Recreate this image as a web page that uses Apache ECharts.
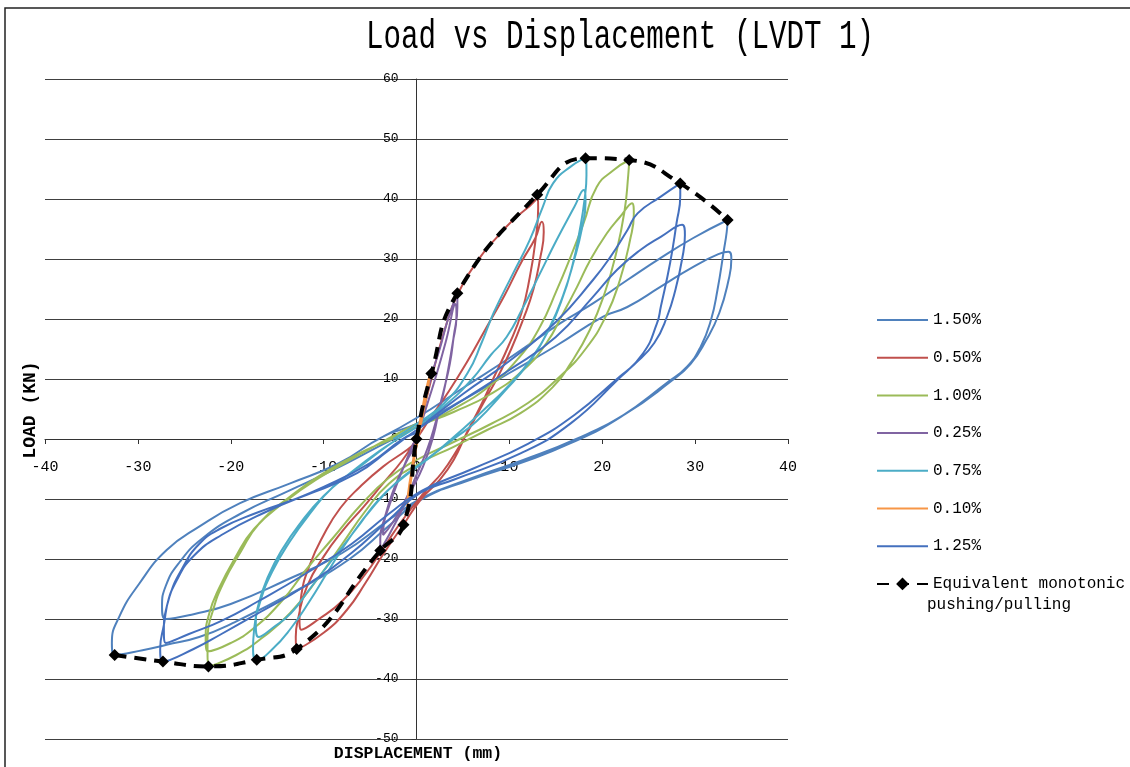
<!DOCTYPE html>
<html><head><meta charset="utf-8">
<script src="https://cdn.jsdelivr.net/npm/echarts@6/dist/echarts.min.js"></script>
<style>html,body{margin:0;padding:0;background:#fff}#c{width:1130px;height:767px}</style>
</head><body><div id="c"></div>
<script>
// ---- data (displacement mm, load kN) ----
const seriesNames = ['1.50%','0.50%','1.00%','0.25%','0.75%','0.10%','1.25%','Equivalent monotonic pushing/pulling'];
const xTicks = [-40,-30,-20,-10,0,10,20,30,40];
const yTicks = [-50,-40,-30,-20,-10,0,10,20,30,40,50,60];

const s150 = [
[-3.6,0.4],[0,3.5],[5,8.5],[10,13.5],[15.5,19.3],[19,22.6],[22.7,26.5],[26.3,30.2],[29.8,33.5],[33.5,36.5],
[33.4,34.5],[33.1,31.5],[32.4,24.8],[31.7,19.8],[30.6,15.4],[29.1,12],[27,9.4],[22,3.7],[16.6,-0.7],[11.2,-4],[5.8,-6.8],[0.4,-10.2],
[-3,-14.5],[-7.2,-20],[-12.6,-25],[-19.8,-30.7],[-23.4,-33],[-26.9,-34.3],[-29.5,-35.2],[-32.5,-36],
[-32.8,-34],[-32,-29.6],[-29.8,-24],[-26.9,-18.5],[-23.4,-14.6],[-19,-10.7],[-13.6,-7.4],[-8.3,-4],[-3.6,0.4],
[0,2.5],[5,6.5],[10,11],[15,15.5],[20.1,20.4],[22.7,22],[26.3,25.4],[29.8,28.7],[32.5,30.8],[33.6,31.2],
[33.9,30],[33.6,26.5],[32.6,21],[31.2,16.5],[29.5,12.5],[27.3,9.5],[22.5,4.2],[17.2,0],[11.5,-3.5],[6,-6.5],[0.6,-9.8],
[-3,-13.5],[-8,-19],[-14,-23.5],[-20,-27.5],[-24,-29.2],[-27,-30],
[-27.4,-28],[-27,-24.5],[-25.5,-20.5],[-23,-16.5],[-19,-12.5],[-14,-8.8],[-9,-5.2],[-4,-1.2],[0,2]
];
const s050 = [
[0,0],[1.6,10],[3,18],[4.4,24],[6.9,30.4],[8.7,33.7],[10.4,36.5],[12.8,39.8],[13,40.7],
[13.1,38.5],[12.8,33],[12.2,27],[11.3,21],[9.9,15.5],[8.4,10.5],[6.9,5.5],[5.4,1],[4,-3.5],[2.5,-6.8],[0.5,-10],
[-1.5,-14.5],[-3.5,-19],[-5.5,-24],[-7.5,-28.5],[-10,-32.3],[-12.9,-35],
[-13,-33],[-12.7,-29.6],[-11.8,-24.6],[-10,-19.6],[-7.9,-15.2],[-5.7,-11.3],[-3.6,-7.4],[-1.5,-3.5],[0,0],
[1.5,3.5],[3.5,8],[5.5,13],[7.5,18.5],[9.5,24],[11.3,29.5],[12.8,33.5],[13.5,36.2],
[13.7,34.5],[13.3,30],[12.6,25],[11.5,20],[10.2,15],[8.8,10.5],[7.2,6],[5.8,2],[4.3,-2],[2.8,-5.5],[0.8,-9],
[-1.5,-13.5],[-3.5,-18],[-5.5,-22.5],[-8,-27],[-10.5,-30],[-12.4,-31.8],
[-12.6,-30],[-12.4,-26],[-11.5,-21],[-10,-16],[-8.2,-11.5],[-6.1,-8],[-3.6,-4.6],[-1,-1.8],[0,-0.5]
];
const s100 = [
[-2.9,-0.2],[0,2],[4,5],[8,9],[11,13.5],[13.3,18.7],[15.1,24.8],[16.6,30.4],[18,36],[19.4,42],[21.2,44.8],[22.9,46.5],
[22.8,44],[22.4,38],[21.5,31],[20.3,24.5],[18.7,18.3],[16.6,12.6],[14.7,8.7],[11.2,4.3],[7.6,1.5],[4,-1.3],[0.4,-4],[-3,-7.5],
[-5.5,-12],[-8,-17.5],[-10.5,-23],[-13.6,-29],[-16.5,-33],[-19.4,-36],[-22.4,-37.9],
[-22.5,-35.5],[-22.5,-33],[-21.9,-28.5],[-20.8,-24],[-19,-19],[-16.9,-14],[-13.6,-9.6],[-10,-5.7],[-5.4,-1.8],[-2.9,-0.2],
[0,2],[4,4.5],[8,7.5],[11.5,11.5],[14,16],[15.8,21],[17.3,25.4],[18.7,29.8],[20.5,34.3],[21.9,37],[23.2,39.3],
[23.4,37.5],[23,33.2],[21.9,26.5],[20.4,20.5],[18.2,15],[15.5,10.5],[12,6],[8,2.5],[4,-0.5],[0,-3.5],[-3,-6.5],
[-6,-11],[-9,-16.5],[-12,-22],[-14.5,-27],[-17.5,-31.5],[-20,-34],[-22.5,-35.4],
[-22.7,-33],[-22.3,-29],[-21.3,-25],[-19.6,-20],[-17.5,-15],[-14.2,-10.5],[-10.5,-6.5],[-6,-2.5],[-2.5,0.5],[0,2.5]
];
const s025 = [
[0,0],[0.8,5],[1.6,10.5],[2.5,15],[3.4,20],[4.4,24.3],
[4.4,22],[4,17],[3.6,12.6],[3,8.5],[2.5,5.4],[1.8,0.4],[0.7,-4.6],[-0.7,-9],[-2.1,-13.5],[-3.9,-18.6],
[-3.9,-16.5],[-3.4,-13],[-2.6,-9],[-1.8,-6],[-1,-3.5],[-0.3,-1.5],[0.3,1.5],[1.2,6],[2.2,11],[3.2,16.5],[4.2,22.5],
[4.3,20.5],[3.9,16],[3.4,11.5],[2.8,7],[2.1,3],[1.2,-1.5],[0,-6],[-1.3,-10.5],[-2.6,-14],[-3.6,-16],
[-3.5,-14],[-2.9,-11],[-2.1,-7.5],[-1.2,-4],[-0.4,-1],[0,0]
];
const s075 = [
[-2.5,0],[0,2.5],[3,6],[5.5,11],[7,16],[8.3,21],[10.4,27.6],[12.2,33.2],[13.6,38.7],[14.7,42.6],[16.6,45.4],[18.2,46.8],
[18.3,44],[18.1,40],[17.6,35],[16.8,29],[15.6,23],[14,17.5],[12,12.5],[9.5,8],[6.5,3],[4,0],[1,-3.5],[-2,-7],
[-4.5,-11],[-7,-16],[-9.5,-22],[-11.5,-27],[-13.5,-31.5],[-15.5,-35],[-17.2,-36.8],
[-17.6,-35],[-17.5,-32],[-16.8,-27],[-15.5,-22],[-13.6,-17],[-11.5,-12.5],[-9,-8],[-6,-4.5],[-3,-1],[0,2],
[3,5.5],[6,10],[8,14],[9.7,17],[11.5,22],[13.3,27.6],[15.1,33.2],[17,38.7],[18,41.5],
[18.2,39.5],[17.8,35],[17,30],[15.8,24],[14.3,18.5],[12.4,13.5],[10,9],[7,4.5],[4.5,1],[1.5,-3],[-1.5,-6.5],
[-4,-10],[-6.5,-15],[-9,-20],[-11.5,-25],[-13.5,-29],[-15.5,-31.5],[-17,-33],
[-17.3,-31],[-17,-27.5],[-16,-23],[-14.5,-18.5],[-12.5,-14],[-10,-9.5],[-7,-5.5],[-4,-2],[-1,1],[0,2]
];
const s010 = [
[0,0],[0.5,4],[1,8],[1.4,10.5],[1.2,8],[0.8,5],[0.3,1],[-0.2,-3],[-0.6,-7],[-1,-11.3],
[-0.9,-9],[-0.5,-5],[0,-1],[0.5,3],[0.9,6],[1.2,9],[1,7],[0.5,3],[0,-1],[-0.4,-5],[-0.9,-10],[-0.6,-6],[0,0]
];
const s125 = [
[0,1.5],[5,7.5],[10,13],[15,19.5],[19,26.5],[20.9,30.4],[22.7,34.8],[23.8,37.6],[26.3,40.4],[28.4,42.6],
[28.4,40.5],[28,36],[27.3,29.3],[26.3,22],[25.9,19.3],[24.4,14.3],[21.6,9.8],[16.6,2.6],[11.2,-2.4],[4,-6.8],[0.4,-9],
[-3,-13.5],[-7,-19],[-12,-24.5],[-17,-29],[-21,-32.5],[-24,-35],[-27.3,-37.1],
[-27.6,-35],[-27.2,-31],[-26.6,-26.3],[-25.2,-21.5],[-23.4,-17.5],[-21.2,-15],[-17.2,-12.3],[-11.8,-9.3],[-6.4,-5.7],[-2.9,-1.8],[0,1.5],
[5,6.5],[10,11.5],[15,17],[19,23.7],[21.6,28.2],[24.1,31.5],[26.3,33.7],[28.6,35.7],
[28.9,34],[28.6,30],[27.9,25],[27,20.5],[25.6,16],[23.5,12.5],[21.8,10.3],[17,4],[12,-0.8],[6,-5],[0.6,-8.6],
[-3,-12.5],[-7,-17.5],[-12,-22.5],[-17,-27],[-21,-30.3],[-24.5,-32.5],[-27,-34],
[-27.2,-32],[-26.9,-28],[-25.8,-23.5],[-24,-19.5],[-21,-16],[-16,-12],[-10,-8],[-5,-4],[-1.5,0],[0,1]
];
const envelope = [
[-32.5,-36],[-27.3,-37.1],[-22.4,-37.9],[-17.2,-36.8],[-12.9,-35],[-3.9,-18.6],[-1.4,-14.3],[0,0],
[1.6,10.9],[4.4,24.3],[13,40.7],[18.2,46.8],[22.9,46.5],[28.4,42.6],[33.5,36.5]
];
const loopData = [s150, s050, s100, s025, s075, s010, s125];
const colors = ['#4F81BD','#C0504D','#9BBB59','#8064A2','#4BACC6','#F79646','#4470BE'];

// ---- chart ----
const FONT = '"Liberation Mono", "DejaVu Sans Mono", monospace';
const EQ = seriesNames[7];
const GRID = {left: 45, right: 342, top: 79, bottom: 28};
const chart = echarts.init(document.getElementById('c'), null, {renderer: 'canvas'});

const series = loopData.map((d, i) => ({
  name: seriesNames[i], type: 'line', data: d, smooth: true, symbol: 'none',
  lineStyle: {color: colors[i], width: 2}, itemStyle: {color: colors[i]}, z: 2
}));
series.push({
  name: EQ, type: 'line', data: envelope, smooth: true, symbol: 'diamond', symbolSize: 12,
  lineStyle: {color: '#000', width: 4, type: [12, 8]}, itemStyle: {color: '#000'}, z: 5
});

chart.setOption({
  animation: false,
  backgroundColor: '#fff',
  grid: GRID,
  xAxis: {
    type: 'value', min: xTicks[0], max: xTicks[xTicks.length - 1], interval: 10,
    offset: -300,
    axisLine: {onZero: false, lineStyle: {color: '#333', width: 1}},
    axisTick: {show: true, length: 5, lineStyle: {color: '#333'}},
    axisLabel: {margin: 21, fontFamily: FONT, fontSize: 15, color: '#000'},
    splitLine: {show: false}
  },
  yAxis: {
    type: 'value', min: yTicks[0], max: yTicks[yTicks.length - 1], interval: 10,
    offset: -371.5,
    axisLine: {onZero: false, lineStyle: {color: '#333', width: 1}},
    axisTick: {show: true, length: 5, lineStyle: {color: '#333'}},
    axisLabel: {margin: 18, fontFamily: FONT, fontSize: 13, color: '#000'},
    splitLine: {show: true, lineStyle: {color: '#404040', width: 1}}
  },
  legend: {
    orient: 'vertical', left: 871, top: 307, itemWidth: 51, itemHeight: 16, itemGap: 21.7,
    itemStyle: {opacity: 0},
    textStyle: {fontFamily: FONT, fontSize: 16, color: '#000', lineHeight: 16},
    formatter: n => (n === EQ ? 'Equivalent monotonic' : n),
    data: seriesNames.map(n => (n === EQ ? {name: n, itemStyle: {opacity: 1}} : {name: n}))
  },
  graphic: [
    {type: 'rect', shape: {x: 5, y: 8, width: 1300, height: 900}, style: {fill: 'none', stroke: '#222', lineWidth: 1.5}, silent: true},
    {type: 'text', x: 620, y: 37, scaleX: 0.73, style: {text: 'Load vs Displacement (LVDT 1)', font: '40px ' + FONT, fill: '#000', align: 'center', verticalAlign: 'middle'}},
    {type: 'text', x: 30, y: 410, rotation: Math.PI / 2, style: {text: 'LOAD (KN)', font: 'bold 18px ' + FONT, fill: '#000', align: 'center', verticalAlign: 'middle'}},
    {type: 'text', x: 418, y: 754, style: {text: 'DISPLACEMENT (mm)', font: 'bold 16.5px ' + FONT, fill: '#000', align: 'center', verticalAlign: 'middle'}},
    {type: 'text', x: 927, y: 605, style: {text: 'pushing/pulling', font: '16px ' + FONT, fill: '#000', align: 'left', verticalAlign: 'middle'}}
  ],
  series: series
});
</script></body></html>
